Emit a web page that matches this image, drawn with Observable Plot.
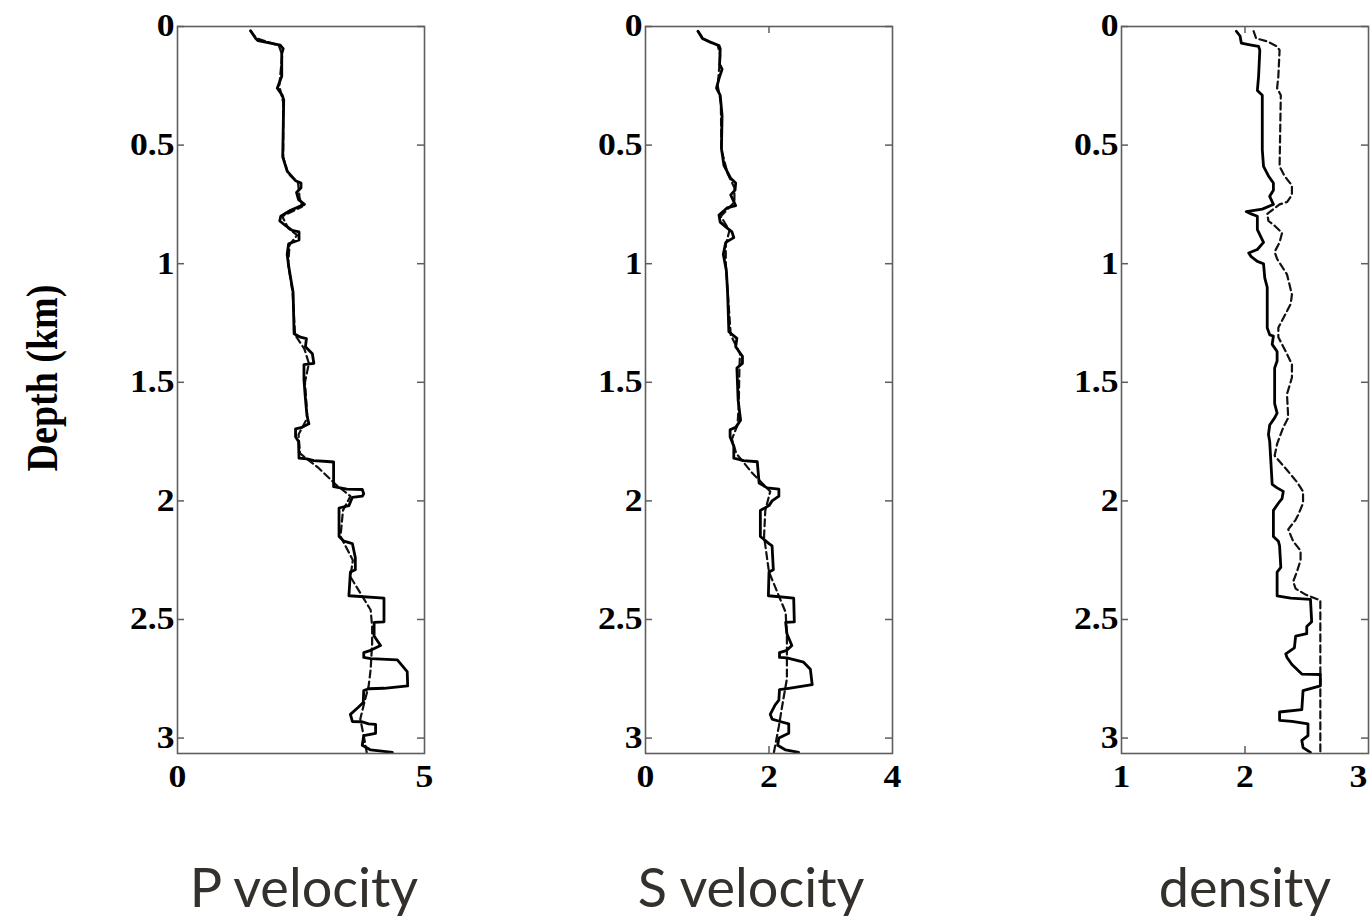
<!DOCTYPE html>
<html>
<head>
<meta charset="utf-8">
<script src="https://cdn.jsdelivr.net/npm/d3@7"></script>
<script src="https://cdn.jsdelivr.net/npm/@observablehq/plot@0.6"></script>
<style>
  html, body { margin: 0; padding: 0; background: #fff; }
  #wrap { position: relative; width: 1372px; height: 920px; overflow: hidden; background: #fff; }
  .panel { position: absolute; top: 0; }
  #overlay { position: absolute; left: 0; top: 0; pointer-events: none; }
</style>
</head>
<body>
<div id="wrap"></div>
<script>
// ---------- data (depth in km, value) ----------
const depthTicks = [0, 0.5, 1, 1.5, 2, 2.5, 3];
const depthTickLabels = ["0", "0.5", "1", "1.5", "2", "2.5", "3"];
const panelTitles = ["P velocity", "S velocity", "density"];
const yAxisTitle = "Depth (km)";

const pTicks = [0, 5];
const sTicks = [0, 2, 4];
const rTicks = [1, 2, 3];

// P velocity – well log (solid)
const pLogDepth = [0.018,0.05,0.06,0.079,0.093,0.114,0.21,0.26,0.29,0.31,0.55,0.61,0.65,0.66,0.68,0.70,0.73,0.75,0.775,0.80,0.82,0.84,0.86,0.866,0.90,0.916,0.96,1.01,1.06,1.12,1.295,1.31,1.316,1.35,1.38,1.42,1.426,1.49,1.57,1.64,1.675,1.69,1.696,1.73,1.75,1.82,1.823,1.83,1.834,1.836,1.94,1.95,1.952,1.97,1.98,1.985,2.02,2.03,2.15,2.17,2.18,2.24,2.29,2.30,2.40,2.41,2.51,2.512,2.57,2.61,2.63,2.64,2.66,2.665,2.67,2.72,2.78,2.79,2.792,2.80,2.85,2.87,2.90,2.93,2.932,2.94,2.942,2.98,2.99,3.03,3.05,3.06];
const pLogValue = [1.48,1.58,1.63,2.08,2.14,2.11,2.11,2.02,2.12,2.15,2.13,2.22,2.39,2.50,2.50,2.41,2.45,2.57,2.29,2.09,2.07,2.19,2.32,2.46,2.46,2.25,2.22,2.25,2.29,2.34,2.36,2.49,2.61,2.59,2.73,2.76,2.56,2.56,2.59,2.62,2.66,2.52,2.39,2.39,2.45,2.46,2.62,2.76,3.03,3.16,3.16,3.43,3.74,3.77,3.74,3.54,3.47,3.27,3.27,3.37,3.54,3.60,3.60,3.50,3.47,4.18,4.18,3.98,3.98,4.11,3.91,3.77,3.77,3.91,4.45,4.65,4.66,4.18,3.87,3.77,3.76,3.66,3.50,3.54,3.74,3.87,4.01,4.01,3.77,3.74,3.91,4.35];
// P velocity – model (dashed)
const pModDepth = [0.02,0.05,0.08,0.12,0.25,0.32,0.55,0.62,0.66,0.72,0.76,0.80,0.85,0.88,0.92,1.0,1.12,1.30,1.36,1.42,1.50,1.65,1.72,1.80,1.86,1.93,1.98,2.04,2.15,2.25,2.32,2.46,2.53,2.60,2.71,2.78,2.86,2.92,2.99,3.06];
const pModValue = [1.48,1.60,2.05,2.12,2.06,2.14,2.14,2.24,2.44,2.47,2.52,2.12,2.24,2.42,2.27,2.24,2.33,2.38,2.57,2.66,2.58,2.63,2.45,2.48,2.85,3.20,3.50,3.35,3.30,3.55,3.50,3.91,3.94,3.94,3.91,3.87,3.77,3.70,3.77,3.83];

// S velocity – well log (solid)
const sLogDepth = [0.02,0.05,0.066,0.08,0.094,0.16,0.18,0.22,0.26,0.29,0.375,0.515,0.585,0.64,0.66,0.69,0.71,0.755,0.765,0.795,0.825,0.845,0.866,0.89,0.91,0.96,1.03,1.125,1.287,1.315,1.35,1.39,1.42,1.44,1.575,1.66,1.69,1.70,1.73,1.77,1.82,1.83,1.835,1.925,1.945,1.95,1.98,2.00,2.02,2.04,2.15,2.18,2.19,2.29,2.30,2.40,2.41,2.51,2.512,2.56,2.61,2.63,2.64,2.66,2.662,2.68,2.71,2.775,2.79,2.796,2.84,2.86,2.90,2.92,2.93,2.94,2.98,3.00,3.03,3.05,3.06];
const sLogValue = [0.85,0.92,1.05,1.19,1.21,1.20,1.24,1.19,1.15,1.21,1.24,1.23,1.27,1.38,1.46,1.45,1.38,1.46,1.32,1.19,1.21,1.30,1.40,1.43,1.30,1.26,1.31,1.33,1.35,1.48,1.46,1.57,1.57,1.48,1.50,1.54,1.46,1.37,1.37,1.43,1.43,1.59,1.81,1.84,1.97,2.16,2.16,2.05,2.00,1.86,1.86,2.00,2.05,2.07,2.00,1.99,2.40,2.41,2.27,2.29,2.37,2.29,2.17,2.17,2.29,2.56,2.67,2.70,2.32,2.17,2.16,2.10,2.02,2.05,2.18,2.32,2.32,2.16,2.14,2.27,2.48];
// S velocity – model (dashed)
const sModDepth = [0.02,0.05,0.08,0.12,0.25,0.32,0.52,0.62,0.68,0.74,0.80,0.86,0.92,1.0,1.15,1.30,1.38,1.45,1.6,1.68,1.74,1.80,1.88,1.96,2.04,2.15,2.30,2.47,2.58,2.75,2.87,2.95,3.06];
const sModValue = [0.85,0.93,1.17,1.21,1.17,1.22,1.23,1.33,1.44,1.44,1.22,1.36,1.30,1.30,1.34,1.38,1.53,1.52,1.51,1.49,1.40,1.47,1.72,2.02,1.94,1.92,2.00,2.27,2.29,2.29,2.21,2.16,2.08];

// density – well log (solid)
const rLogDepth = [0.02,0.04,0.07,0.077,0.084,0.10,0.21,0.27,0.29,0.52,0.59,0.63,0.66,0.69,0.716,0.75,0.77,0.78,0.79,0.80,0.856,0.91,0.94,0.955,0.97,0.99,1.00,1.06,1.10,1.27,1.30,1.305,1.34,1.37,1.41,1.44,1.59,1.63,1.65,1.68,1.72,1.75,1.93,1.945,1.96,1.99,2.01,2.04,2.15,2.17,2.19,2.28,2.30,2.40,2.41,2.415,2.51,2.53,2.56,2.57,2.62,2.645,2.66,2.69,2.73,2.732,2.78,2.80,2.88,2.89,2.925,2.93,2.94,2.99,3.01,3.04,3.06];
const rLogValue = [1.93,1.96,1.97,2.04,2.11,2.12,2.11,2.10,2.14,2.14,2.15,2.19,2.23,2.23,2.20,2.23,2.14,2.01,2.05,2.10,2.10,2.15,2.10,2.03,2.05,2.10,2.15,2.16,2.18,2.18,2.20,2.23,2.22,2.26,2.26,2.24,2.24,2.26,2.24,2.20,2.19,2.20,2.22,2.26,2.31,2.30,2.27,2.23,2.23,2.27,2.28,2.29,2.26,2.26,2.37,2.53,2.54,2.50,2.50,2.41,2.40,2.33,2.34,2.38,2.46,2.61,2.61,2.47,2.46,2.28,2.28,2.38,2.51,2.51,2.46,2.47,2.53];
// density – model (dashed)
const rModDepth = [0.02,0.05,0.063,0.084,0.10,0.21,0.26,0.29,0.59,0.63,0.67,0.71,0.74,0.75,0.77,0.79,0.82,0.84,0.87,0.91,0.95,0.98,1.045,1.13,1.17,1.23,1.27,1.31,1.37,1.425,1.48,1.55,1.65,1.69,1.76,1.81,1.87,1.92,1.96,2.01,2.06,2.08,2.12,2.17,2.21,2.25,2.30,2.34,2.37,2.395,2.42,3.06];
const rModValue = [2.07,2.09,2.18,2.26,2.28,2.27,2.26,2.29,2.28,2.32,2.38,2.38,2.34,2.28,2.23,2.18,2.19,2.24,2.30,2.28,2.24,2.26,2.34,2.38,2.37,2.31,2.27,2.27,2.33,2.38,2.38,2.34,2.35,2.31,2.26,2.24,2.34,2.42,2.47,2.47,2.43,2.41,2.35,2.39,2.45,2.45,2.42,2.39,2.41,2.49,2.61,2.61];

// ---------- layout ----------
const frameW = 247, frameH = 727;
const mL = 70, mR = 10, mT = 26, mB = 60;
const panels = [
  {left: 177, domain: [0, 5], ticks: pTicks, inner: [], log: [pLogDepth, pLogValue], mod: [pModDepth, pModValue]},
  {left: 645, domain: [0, 4], ticks: sTicks, inner: [2], log: [sLogDepth, sLogValue], mod: [sModDepth, sModValue]},
  {left: 1121, domain: [1, 3], ticks: rTicks, inner: [2], log: [rLogDepth, rLogValue], mod: [rModDepth, rModValue]}
];
const zip = (ds, vs) => ds.map((d, i) => ({depth: d, value: vs[i]}));
const frameColor = "#5e5e5e";
const tickFont = {fontFamily: "Liberation Serif, Times New Roman, serif", fontWeight: "bold", fontSize: 31, fill: "#000"};

const wrap = document.getElementById("wrap");
panels.forEach((p, i) => {
  const svg = Plot.plot({
    width: mL + frameW + mR,
    height: mT + frameH + mB,
    marginLeft: mL, marginRight: mR, marginTop: mT, marginBottom: mB,
    x: {domain: p.domain},
    y: {domain: [0, 3.065], reverse: true},
    style: {background: "transparent", overflow: "visible"},
    marks: [
      Plot.line(zip(p.mod[0], p.mod[1]), {x: "value", y: "depth", stroke: "#111", strokeWidth: 2.2, strokeDasharray: "7,4"}),
      Plot.line(zip(p.log[0], p.log[1]), {x: "value", y: "depth", stroke: "#000", strokeWidth: 2.8, strokeLinejoin: "round"}),
      Plot.tickY(depthTicks, {y: d => d, insetRight: frameW - 7, stroke: frameColor, strokeWidth: 1.5}),
      Plot.tickY(depthTicks, {y: d => d, insetLeft: frameW - 7, stroke: frameColor, strokeWidth: 1.5}),
      Plot.tickX(p.inner, {x: d => d, insetBottom: frameH - 7, stroke: frameColor, strokeWidth: 1.5}),
      Plot.tickX(p.inner, {x: d => d, insetTop: frameH - 7, stroke: frameColor, strokeWidth: 1.5}),
      Plot.frame({stroke: frameColor, strokeWidth: 1.6}),
      Plot.axisY(depthTicks, {tickSize: 0, tickPadding: 3, label: null, tickFormat: (d) => depthTickLabels[depthTicks.indexOf(d)], ...tickFont}),
      Plot.axisX(p.ticks, {tickSize: 0, tickPadding: 11, label: null, tickFormat: d => String(d), ...tickFont})
    ]
  });
  // widen the serif tick labels a little, as in the original figure
  d3.select(svg).selectAll('g[aria-label="y-axis tick label"] text, g[aria-label="x-axis tick label"] text')
    .each(function() {
      const t = this.getAttribute("transform") || "";
      this.setAttribute("transform", t + " scale(1.15,1)");
    });
  // keep the right-most density tick label inside the page
  if (i === 2) {
    d3.select(svg).selectAll('g[aria-label="x-axis tick label"] text')
      .filter(function() { return this.textContent === "3"; })
      .attr("text-anchor", "end").attr("dx", -1).style("text-anchor", "end");
  }
  svg.classList.add("panel");
  svg.style.position = "absolute";
  svg.style.left = (p.left - mL) + "px";
  svg.style.top = "0px";
  svg.style.maxWidth = "none";
  wrap.appendChild(svg);
});

// ---------- titles ----------
const ns = "http://www.w3.org/2000/svg";
const ov = document.createElementNS(ns, "svg");
ov.setAttribute("id", "overlay");
ov.setAttribute("width", 1372);
ov.setAttribute("height", 920);
const yt = document.createElementNS(ns, "text");
yt.textContent = yAxisTitle;
yt.setAttribute("transform", "translate(57,378) rotate(-90) scale(1,1.15)");
yt.setAttribute("text-anchor", "middle");
yt.setAttribute("font-family", "Liberation Serif, Times New Roman, serif");
yt.setAttribute("font-weight", "bold");
yt.setAttribute("font-size", "38");
yt.setAttribute("fill", "#000");
ov.appendChild(yt);
const titleCenters = [304, 751, 1245];
panelTitles.forEach((t, i) => {
  const el = document.createElementNS(ns, "text");
  el.textContent = t;
  el.setAttribute("x", titleCenters[i]);
  el.setAttribute("y", 907);
  el.setAttribute("text-anchor", "middle");
  el.setAttribute("font-family", "Lato, Open Sans, sans-serif");
  el.setAttribute("font-weight", "400");
  el.setAttribute("font-size", "54");
  el.setAttribute("fill", "#34312d");
  ov.appendChild(el);
});
wrap.appendChild(ov);
</script>
</body>
</html>
